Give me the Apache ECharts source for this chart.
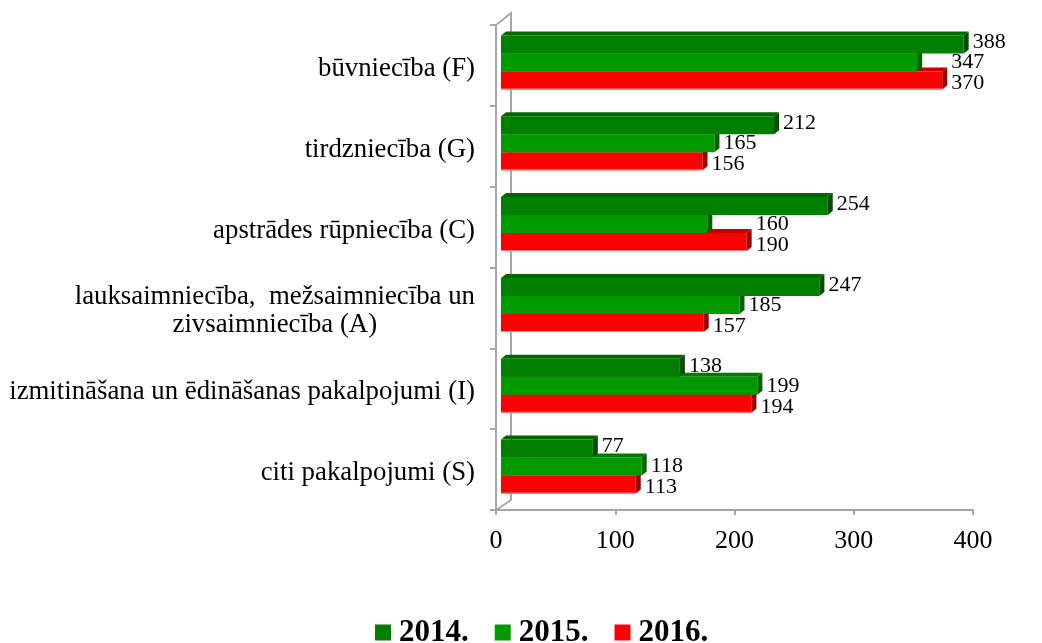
<!DOCTYPE html>
<html><head><meta charset="utf-8">
<script src="https://cdn.jsdelivr.net/npm/echarts@6/dist/echarts.min.js"></script>
<style>html,body{margin:0;padding:0;background:#fff}#c{width:1042px;height:643px}</style>
</head><body><div id="c"></div>
<script>
// Categories listed bottom to top (category axis grows upward)
const categories = [
  'citi pakalpojumi (S)',
  'izmitināšana un ēdināšanas pakalpojumi (I)',
  'lauksaimniecība,  mežsaimniecība un\nzivsaimniecība (A)',
  'apstrādes rūpniecība (C)',
  'tirdzniecība (G)',
  'būvniecība (F)'
];
const years = ['2014.', '2015.', '2016.'];
// Bar lengths as drawn in the picture
const values2014 = [77, 150, 267, 274, 229, 388];
const values2015 = [118, 215, 200, 173, 179, 349];
const values2016 = [113, 210, 170, 206, 169, 370];
// Data labels as printed in the picture
const labels2014 = ['77', '138', '247', '254', '212', '388'];
const labels2015 = ['118', '199', '185', '160', '165', '347'];
const labels2016 = ['113', '194', '157', '190', '156', '370'];
const xTicks = [0, 100, 200, 300, 400];

const FONT = 'Liberation Serif';
const seriesValues = [values2014, values2015, values2016];
const seriesLabels = [labels2014, labels2015, labels2016];
const faces = [
  { front: '#007F00', top: '#006A00', side: '#004E00', edge: null },
  { front: '#009900', top: '#007C00', side: '#006400', edge: null },
  { front: '#FF0000', top: '#C40000', side: '#A00000', edge: '#FF8C8C' }
];
const labelDy = [-2, 0, 3];

function makeRender(k) {
  return function (params, api) {
    const cat = api.value(0), v = api.value(1);
    const p0 = api.coord([0, cat]);
    const p1 = api.coord([v, cat]);
    const bandH = api.size([0, 1])[1];
    const h = bandH * 0.223;
    const y = p0[1] - 1.5 * h - 3 + k * h;
    const shift = 5, dx = 5, dy = 4;
    const x0 = p0[0] + shift, x1 = p1[0] + shift;
    const f = faces[k];
    let labelEnd = x1;
    if (k === 1) {
      const po = api.coord([values2016[cat], cat]);
      labelEnd = Math.max(labelEnd, po[0] + shift);
    }
    const children = [
      { type: 'polygon', shape: { points: [[x0, y], [x0 + dx, y - dy], [x1 + dx, y - dy], [x1, y]] }, style: { fill: f.top } },
      { type: 'rect', shape: { x: x0, y: y, width: x1 - x0, height: h }, style: { fill: f.front } },
      { type: 'polygon', shape: { points: [[x1, y], [x1 + dx, y - dy], [x1 + dx, y + h - dy], [x1, y + h]] }, style: { fill: f.side } }
    ];
    if (f.edge) {
      children.push({ type: 'line', shape: { x1: x0, y1: y + h - 0.5, x2: x1, y2: y + h - 0.5 }, style: { stroke: f.edge, lineWidth: 1 } });
    }
    children.push({
      type: 'text', x: labelEnd + dx + 4, y: y + h / 2 + labelDy[k],
      style: { text: seriesLabels[k][cat], fontSize: 22, fontFamily: FONT, fill: '#000', align: 'left', verticalAlign: 'middle' }
    });
    return { type: 'group', children: children };
  };
}

const chart = echarts.init(document.getElementById('c'));
const series = [];
// 3D wall outline
series.push({
  type: 'custom', name: 'wall', silent: true, z: 1,
  data: [[0, 0]],
  encode: { x: 1, y: 0 },
  renderItem: function (params, api) {
    const cs = params.coordSys;
    const x = cs.x, yt = cs.y, yb = cs.y + cs.height;
    return {
      type: 'polyline',
      shape: { points: [[x, yt], [x + 15, yt - 12], [x + 15, yb - 10], [x, yb]] },
      style: { stroke: '#A6A6A6', lineWidth: 2, fill: null }
    };
  }
});
[2, 1, 0].forEach(function (k) {
  series.push({
    type: 'custom', name: years[k], z: 3 + (2 - k),
    itemStyle: { color: faces[k].front },
    data: seriesValues[k].map(function (v, i) { return [i, v]; }),
    encode: { x: 1, y: 0 },
    renderItem: makeRender(k)
  });
});

chart.setOption({
  animation: false,
  backgroundColor: '#fff',
  textStyle: { fontFamily: FONT },
  grid: { left: 496, right: 69, top: 25, bottom: 133, containLabel: false },
  xAxis: {
    type: 'value', min: xTicks[0], max: xTicks[xTicks.length - 1], interval: 100,
    splitLine: { show: false },
    axisLine: { show: true, lineStyle: { color: '#A6A6A6', width: 2 } },
    axisTick: { show: true, length: 5, lineStyle: { color: '#A6A6A6', width: 2 } },
    axisLabel: { fontSize: 26, fontFamily: FONT, color: '#000', margin: 18 }
  },
  yAxis: {
    type: 'category', data: categories,
    axisLine: { show: true, lineStyle: { color: '#A6A6A6', width: 2 } },
    axisTick: { show: true, length: 6, lineStyle: { color: '#A6A6A6', width: 2 } },
    axisLabel: {
      margin: 21, color: '#000', fontSize: 26.8, fontFamily: FONT, align: 'right',
      padding: [7, 0, 0, 0],
      formatter: function (val) { return val.split('\n').map(function (l) { return '{c|' + l + '}'; }).join('\n'); },
      rich: { c: { align: 'center', fontSize: 26.8, fontFamily: FONT, color: '#000', lineHeight: 28 } }
    }
  },
  legend: {
    data: years, left: 375, top: 617, padding: 0, icon: 'rect', itemWidth: 16, itemHeight: 16, itemGap: 26,
    textStyle: { fontSize: 31, fontWeight: 'bold', fontFamily: FONT, color: '#000', padding: [0, 0, 0, 3] }
  },
  series: series
});
</script>
</body></html>
